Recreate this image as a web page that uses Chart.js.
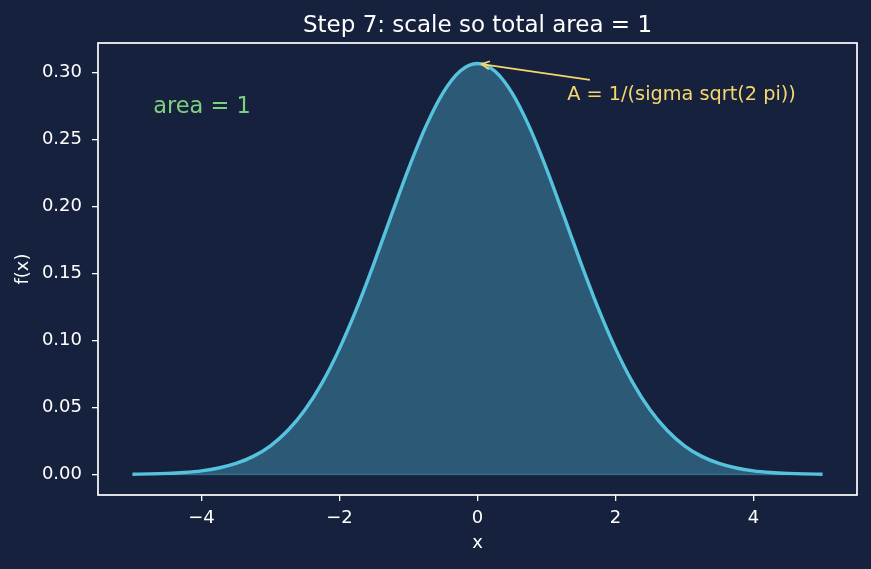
<!DOCTYPE html>
<html>
<head>
<meta charset="utf-8">
<script src="https://cdn.jsdelivr.net/npm/chart.js@4.4.0/dist/chart.umd.min.js"></script>
<style>
html,body{margin:0;padding:0;background:#16213e;}
#wrap{width:871px;height:569px;}
</style>
</head>
<body>
<div id="wrap"><canvas id="c" width="871" height="569"></canvas></div>
<script>
// ---- data ----
const xValues = [-5, -4.75, -4.5, -4.25, -4, -3.75, -3.5, -3.25, -3, -2.75, -2.5, -2.25, -2, -1.75, -1.5, -1.25, -1, -0.75, -0.5, -0.25,
                 0, 0.25, 0.5, 0.75, 1, 1.25, 1.5, 1.75, 2, 2.25, 2.5, 2.75, 3, 3.25, 3.5, 3.75, 4, 4.25, 4.5, 4.75, 5];
const fValues = [0.0002, 0.0004, 0.0008, 0.0015, 0.0027, 0.0048, 0.0082, 0.0135, 0.0214, 0.0328, 0.0483, 0.0686, 0.0940, 0.1240, 0.1577, 0.1933, 0.2283, 0.2598, 0.2850, 0.3013,
                 0.3069, 0.3013, 0.2850, 0.2598, 0.2283, 0.1933, 0.1577, 0.1240, 0.0940, 0.0686, 0.0483, 0.0328, 0.0214, 0.0135, 0.0082, 0.0048, 0.0027, 0.0015, 0.0008, 0.0004, 0.0002];
const xTickValues = [-4, -2, 0, 2, 4];
const yTickValues = [0, 0.05, 0.10, 0.15, 0.20, 0.25, 0.30];
const titleText = 'Step 7: scale so total area = 1';
const xAxisLabel = 'x';
const yAxisLabel = 'f(x)';
const areaNoteText = 'area = 1';
const areaNotePos = [-4.7, 0.27];
const peakNoteText = 'A = 1/(sigma sqrt(2 pi))';
const peakNotePos = [1.3, 0.28];
const peakPoint = [0, 0.3069];
const arrowTail = [1.63, 0.2947];

// ---- styles ----
const BG = '#16213e';
const CURVE = '#55c3dd';
const FILL = 'rgba(85,195,221,0.35)';
const YELLOW = '#f5d76e';
const GREEN = '#7fcf80';
const FG = '#ffffff';
const FONT = "'DejaVu Sans', sans-serif";

const bgPlugin = {
  id: 'bg',
  beforeDraw(chart) {
    const ctx = chart.ctx;
    ctx.save();
    ctx.fillStyle = BG;
    ctx.fillRect(0, 0, chart.width, chart.height);
    ctx.restore();
  }
};

const overlayPlugin = {
  id: 'overlay',
  afterDraw(chart) {
    const {ctx, chartArea: a, scales: {x, y}} = chart;
    ctx.save();
    // frame
    ctx.strokeStyle = FG;
    ctx.lineWidth = 1.7;
    ctx.strokeRect(a.left, a.top, a.right - a.left, a.bottom - a.top);

    // title, centred over the plot area
    ctx.font = "23px " + FONT;
    ctx.fillStyle = FG;
    ctx.textAlign = 'center';
    ctx.textBaseline = 'alphabetic';
    ctx.fillText(titleText, (a.left + a.right) / 2, a.top - 11);

    // "area = 1"
    ctx.textAlign = 'left';
    ctx.font = "22.5px " + FONT;
    ctx.fillStyle = GREEN;
    ctx.fillText(areaNoteText, x.getPixelForValue(areaNotePos[0]), y.getPixelForValue(areaNotePos[1]));

    // annotation text
    ctx.font = "19.3px " + FONT;
    ctx.fillStyle = YELLOW;
    ctx.fillText(peakNoteText, x.getPixelForValue(peakNotePos[0]), y.getPixelForValue(peakNotePos[1]));

    // arrow
    const tx = x.getPixelForValue(arrowTail[0]), ty = y.getPixelForValue(arrowTail[1]);
    let px = x.getPixelForValue(peakPoint[0]), py = y.getPixelForValue(peakPoint[1]);
    let dx = tx - px, dy = ty - py;
    const len = Math.hypot(dx, dy);
    dx /= len; dy /= len;
    px += dx * 4; py += dy * 4;
    ctx.strokeStyle = YELLOW;
    ctx.lineWidth = 1.6;
    ctx.beginPath();
    ctx.moveTo(tx, ty);
    ctx.lineTo(px, py);
    ctx.stroke();
    const hl = 8, hw = 4;
    const nx = -dy, ny = dx;
    ctx.beginPath();
    ctx.moveTo(px + dx * hl + nx * hw, py + dy * hl + ny * hw);
    ctx.lineTo(px, py);
    ctx.lineTo(px + dx * hl - nx * hw, py + dy * hl - ny * hw);
    ctx.stroke();
    ctx.restore();
  }
};

const fmtMinus = s => s.replace('-', '\u2212');

new Chart(document.getElementById('c'), {
  type: 'line',
  data: {
    datasets: [
      {
        data: xValues.map((v, i) => ({x: v, y: fValues[i]})),
        borderColor: CURVE,
        borderWidth: 3.4,
        backgroundColor: FILL,
        fill: 'origin',
        pointRadius: 0,
        cubicInterpolationMode: 'monotone',
        order: 1
      },
      {
        data: [{x: xValues[0], y: 0}, {x: xValues[xValues.length - 1], y: 0}],
        borderColor: 'rgba(85,195,221,0.35)',
        borderWidth: 1.5,
        pointRadius: 0,
        fill: false,
        order: 2
      }
    ]
  },
  options: {
    responsive: false,
    animation: false,
    layout: {padding: {left: 0, right: 14, top: 43, bottom: 0}},
    plugins: {
      legend: {display: false},
      tooltip: {enabled: false},
      title: {display: false}
    },
    scales: {
      x: {
        type: 'linear',
        min: -5.5,
        max: 5.5,
        afterBuildTicks: s => { s.ticks = xTickValues.map(v => ({value: v})); },
        afterFit: s => { s.height = 74; },
        border: {display: false},
        grid: {display: true, drawOnChartArea: false, drawTicks: true, tickLength: 6, color: FG, lineWidth: 1.3},
        ticks: {
          color: FG, font: {family: FONT, size: 18}, padding: 6.2, autoSkip: false, maxRotation: 0,
          callback: v => fmtMinus(String(v))
        },
        title: {display: true, text: xAxisLabel, color: FG, font: {family: FONT, size: 18}, padding: {top: 0, bottom: 14.5}}
      },
      y: {
        type: 'linear',
        min: -0.01535,
        max: 0.32225,
        afterBuildTicks: s => { s.ticks = yTickValues.map(v => ({value: v})); },
        afterFit: s => { s.width = 98; },
        border: {display: false},
        grid: {display: true, drawOnChartArea: false, drawTicks: true, tickLength: 6, color: FG, lineWidth: 1.3},
        ticks: {
          color: FG, font: {family: FONT, size: 18}, padding: 10, autoSkip: false,
          callback: v => v.toFixed(2)
        },
        title: {display: true, text: yAxisLabel, color: FG, font: {family: FONT, size: 18}, padding: {top: 12.2, bottom: 0}}
      }
    }
  },
  plugins: [bgPlugin, overlayPlugin]
});
</script>
</body>
</html>
